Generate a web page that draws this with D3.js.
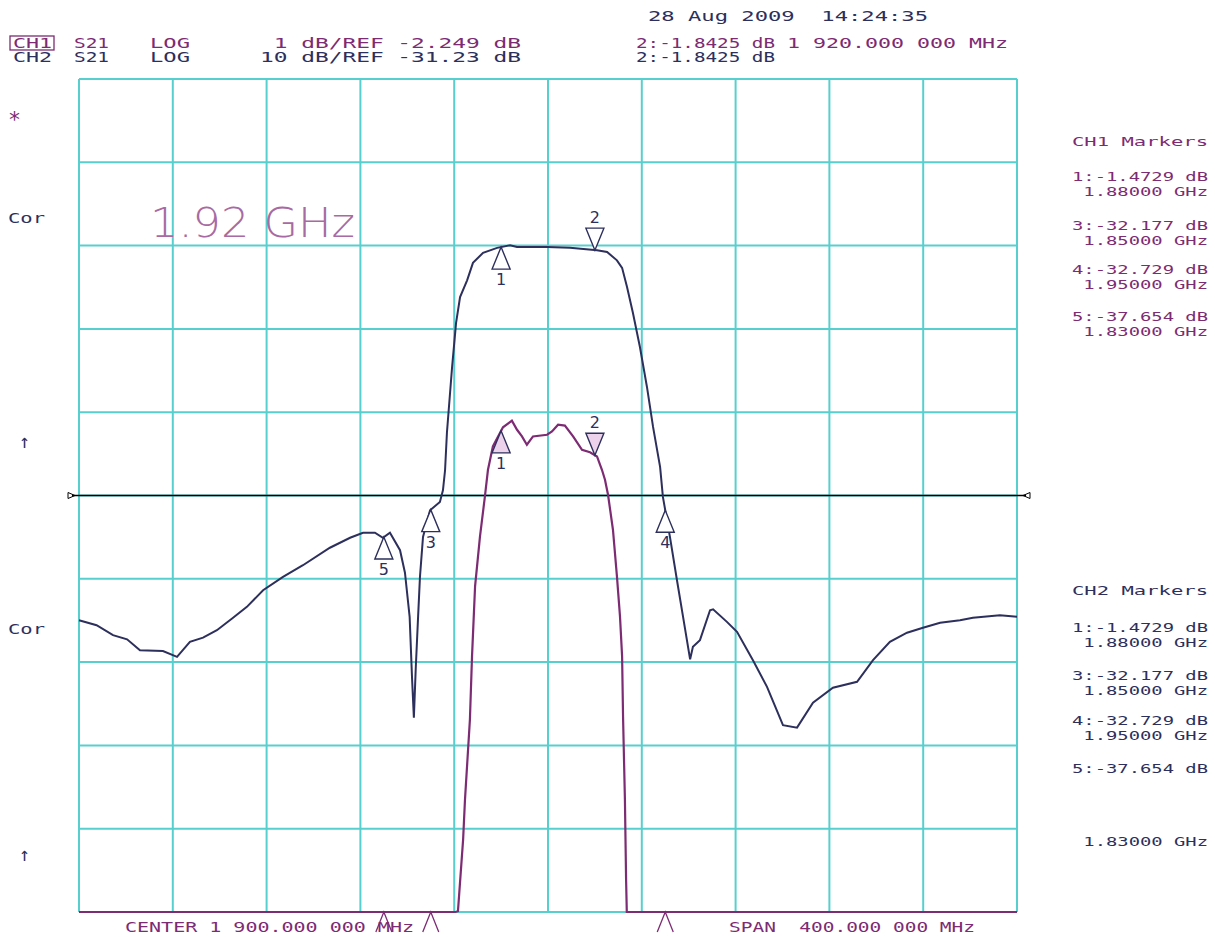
<!DOCTYPE html>
<html>
<head>
<meta charset="utf-8">
<script src="https://cdn.jsdelivr.net/npm/d3@7"></script>
<style>
  body { margin: 0; background: #fff; }
  text { font-family: "DejaVu Sans Mono", monospace; }
</style>
</head>
<body>
<div id="chart"></div>
<script>
// ---- instrument settings ----
const centerMHz = 1900;
const spanMHz = 400;
const ch1Ref = -2.249, ch1PerDiv = 1;    // CH1 S21 LOG 1 dB/div
const ch2Ref = -31.23, ch2PerDiv = 10;   // CH2 S21 LOG 10 dB/div

// ---- CH2 trace (wide view, navy) : frequency MHz / dB ----
const ch2Freq = [1700.0, 1707.5, 1714.5, 1720.5, 1726.0, 1735.8, 1741.8, 1747.3, 1752.9, 1758.8,
  1765.7, 1771.6, 1778.5, 1787.0, 1795.5, 1807.0, 1815.6, 1821.1, 1826.2, 1829.6,
  1832.6, 1836.9, 1839.0, 1841.0, 1842.0, 1842.8, 1843.6, 1844.6, 1845.4, 1846.7,
  1849.7, 1853.9, 1855.2, 1856.1, 1856.9, 1859.1, 1860.8, 1862.5, 1865.5, 1868.0,
  1872.3, 1878.3, 1883.8, 1886.8, 1899.6, 1909.4, 1920.9, 1925.2, 1929.4, 1931.6,
  1933.7, 1936.2, 1939.2, 1942.2, 1944.8, 1947.8, 1949.0, 1952.0, 1955.0, 1957.6,
  1960.6, 1961.8, 1964.8, 1969.1, 1970.4, 1976.3, 1980.6, 1987.4, 1993.4, 2000.2,
  2006.2, 2013.0, 2021.5, 2031.8, 2038.6, 2045.8, 2053.1, 2059.9, 2067.2, 2075.7,
  2081.2, 2092.7, 2100.0];
const ch2Db = [-46.2, -46.8, -48.0, -48.5, -49.8, -49.9, -50.6, -48.8, -48.3, -47.4,
  -45.9, -44.6, -42.6, -41.0, -39.6, -37.5, -36.3, -35.7, -35.7, -36.3,
  -35.7, -37.8, -40.5, -45.8, -53.0, -57.9, -52.0, -45.8, -41.0, -36.2,
  -33.0, -32.0, -30.6, -28.2, -23.7, -15.8, -10.5, -7.4, -5.4, -3.3,
  -2.1, -1.5, -1.2, -1.4, -1.4, -1.5, -1.8, -2.0, -3.0, -3.9,
  -6.2, -9.3, -13.4, -18.2, -23.0, -27.8, -31.4, -36.2, -41.4, -45.8,
  -50.9, -49.4, -48.6, -45.0, -44.9, -46.4, -47.6, -51.0, -54.2, -58.8,
  -59.1, -56.1, -54.3, -53.6, -51.0, -48.8, -47.7, -47.1, -46.5, -46.2,
  -45.9, -45.6, -45.8];

// ---- CH1 trace (passband zoom, purple) : frequency MHz / dB ----
const ch1Freq = [1700.0, 1860.5, 1861.6, 1863.8, 1864.6, 1866.7, 1867.6, 1868.9, 1871.0, 1873.1,
  1874.4, 1875.3, 1876.5, 1880.8, 1884.6, 1886.8, 1888.9, 1891.0, 1893.6, 1899.6,
  1901.7, 1904.3, 1907.2, 1910.7, 1914.5, 1917.9, 1920.9, 1923.0, 1924.3, 1925.6,
  1927.7, 1929.4, 1930.7, 1931.6, 1932.0, 1932.8, 1933.3, 1933.6, 1934.0, 2100.0];
const ch1Db = [-9.0, -9.0, -7.24, -6.38, -5.90, -4.94, -4.18, -3.34, -2.74, -2.26,
  -1.94, -1.82, -1.66, -1.43, -1.35, -1.46, -1.54, -1.64, -1.54, -1.52,
  -1.48, -1.40, -1.41, -1.54, -1.70, -1.73, -1.78, -1.94, -2.06, -2.24,
  -2.66, -3.22, -3.70, -4.18, -4.90, -5.90, -6.86, -7.3, -9.0, -9.0];

// ---- markers ----
const markerIds = ["1", "2", "3", "4", "5"];
const markerFreq = [1880, 1920, 1850, 1950, 1830];
const markerPointsDown = [false, true, false, false, false];

// ---- text ----
const dateLabel = "28 Aug 2009  14:24:35";
const ch1Header = ["CH1", "S21", "LOG", " 1 dB/REF -2.249 dB", "2:-1.8425 dB", "1 920.000 000 MHz"];
const ch2Header = ["CH2", "S21", "LOG", "10 dB/REF -31.23 dB", "2:-1.8425 dB"];
const markerListCh1 = ["CH1 Markers", "1:-1.4729 dB", " 1.88000 GHz", "3:-32.177 dB", " 1.85000 GHz",
  "4:-32.729 dB", " 1.95000 GHz", "5:-37.654 dB", " 1.83000 GHz"];
const markerListCh2 = ["CH2 Markers", "1:-1.4729 dB", " 1.88000 GHz", "3:-32.177 dB", " 1.85000 GHz",
  "4:-32.729 dB", " 1.95000 GHz", "5:-37.654 dB", " 1.83000 GHz"];
const stimulusLabels = ["CENTER 1 900.000 000 MHz", "SPAN  400.000 000 MHz"];
const bigLabel = "1.92 GHz";

// ---- layout ----
const W = 1215, H = 937;
const plot = { left: 79, right: 1017, top: 79, bottom: 912 };
const purple = "#7d2b73", navy = "#2d2f5c", grid = "#58cfcf";

const svg = d3.select("#chart").append("svg").attr("width", W).attr("height", H);
svg.append("rect").attr("width", W).attr("height", H).attr("fill", "#fff");

const x = d3.scaleLinear()
  .domain([centerMHz - spanMHz / 2, centerMHz + spanMHz / 2])
  .range([plot.left, plot.right]);
const yCh1 = d3.scaleLinear()
  .domain([ch1Ref - 5 * ch1PerDiv, ch1Ref + 5 * ch1PerDiv])
  .range([plot.bottom, plot.top]).clamp(true);
const yCh2 = d3.scaleLinear()
  .domain([ch2Ref - 5 * ch2PerDiv, ch2Ref + 5 * ch2PerDiv])
  .range([plot.bottom, plot.top]).clamp(true);

// graticule: 10 x 10 divisions
const xDivs = d3.range(11).map(i => x.domain()[0] + i * spanMHz / 10);
const yDivs = d3.range(11).map(i => yCh2.domain()[0] + i * ch2PerDiv);
const g = svg.append("g");
g.selectAll(".vl").data(xDivs).enter().append("line")
  .attr("x1", d => x(d)).attr("x2", d => x(d))
  .attr("y1", plot.top).attr("y2", plot.bottom)
  .attr("stroke", grid).attr("stroke-width", 2);
g.selectAll(".hl").data(yDivs).enter().append("line")
  .attr("y1", d => yCh2(d)).attr("y2", d => yCh2(d))
  .attr("x1", plot.left).attr("x2", plot.right)
  .attr("stroke", grid).attr("stroke-width", 2);

// reference line (both channels have their reference at the centre)
const yRef = yCh2(ch2Ref);
svg.append("line").attr("x1", 72).attr("x2", 1026).attr("y1", yRef).attr("y2", yRef)
  .attr("stroke", "#000").attr("stroke-width", 1.5);
svg.append("path").attr("d", `M68,${yRef - 3} L75,${yRef} L68,${yRef + 3} Z`)
  .attr("fill", "none").attr("stroke", "#000").attr("stroke-width", 1);
svg.append("path").attr("d", `M1030,${yRef - 3} L1023,${yRef} L1030,${yRef + 3} Z`)
  .attr("fill", "none").attr("stroke", "#000").attr("stroke-width", 1);

// traces
const ch1Data = ch1Freq.map((f, i) => [f, ch1Db[i]]);
const ch2Data = ch2Freq.map((f, i) => [f, ch2Db[i]]);
svg.append("path").datum(ch1Data)
  .attr("d", d3.line().x(d => x(d[0])).y(d => yCh1(d[1])))
  .attr("fill", "none").attr("stroke", purple).attr("stroke-width", 2.2);
svg.append("path").datum(ch2Data)
  .attr("d", d3.line().x(d => x(d[0])).y(d => yCh2(d[1])))
  .attr("fill", "none").attr("stroke", navy).attr("stroke-width", 2);

// markers sit on the trace
function valueAt(freqs, dbs, f) {
  const i = Math.max(1, d3.bisectLeft(freqs, f));
  const t = (f - freqs[i - 1]) / (freqs[i] - freqs[i - 1]);
  return dbs[i - 1] + t * (dbs[i] - dbs[i - 1]);
}
function drawMarkers(freqs, dbs, yScale, fillCol) {
  markerFreq.forEach((f, i) => {
    const v = valueAt(freqs, dbs, f);
    const tx = x(f), ty = yScale(v);
    const clipped = v < yScale.domain()[0];
    const down = markerPointsDown[i];
    if (clipped) {
      // off-screen marker: only the apex shows below the graticule
      svg.append("path").attr("d", `M${tx - 8},${ty + 20} L${tx},${ty} L${tx + 8},${ty + 20}`)
        .attr("fill", "none").attr("stroke", purple).attr("stroke-width", 1.3);
      return;
    }
    const by = down ? ty - 22 : ty + 22;
    svg.append("path").attr("d", `M${tx},${ty} L${tx - 9},${by} L${tx + 9},${by} Z`)
      .attr("fill", fillCol).attr("stroke", navy).attr("stroke-width", 1.4);
    svg.append("text").attr("x", tx).attr("y", down ? ty - 27 : ty + 38)
      .attr("text-anchor", "middle")
      .attr("font-size", 16).attr("fill", navy).style("font-family", "DejaVu Sans")
      .text(markerIds[i]);
  });
}
drawMarkers(ch2Freq, ch2Db, yCh2, "#fff");
drawMarkers(ch1Freq, ch1Db, yCh1, "#ecd2ea");

// text helper: fixed-pitch display font, stretched to the cell width
function mono(str, x0, y0, width, col, size) {
  svg.append("text").attr("x", x0).attr("y", y0)
    .attr("font-size", size || 14).attr("fill", col)
    .attr("textLength", width).attr("lengthAdjust", "spacingAndGlyphs")
    .style("white-space", "pre")
    .text(str);
}

// header
mono(dateLabel, 648, 21, 280, navy);
const hdrX = [13, 74, 150, 260, 636, 787];
const hdrW = [39, 35, 40, 261, 139, 221];
ch1Header.forEach((s, i) => mono(s, hdrX[i], 48, hdrW[i], purple));
ch2Header.forEach((s, i) => mono(s, hdrX[i], 62, hdrW[i], navy));
svg.append("rect").attr("x", 10).attr("y", 36).attr("width", 44).attr("height", 14)
  .attr("fill", "none").attr("stroke", purple).attr("stroke-width", 1.3);

// left annotations
mono("*", 8, 127, 13, purple, 22);
mono("Cor", 8, 223, 37, navy);
mono("Cor", 8, 634, 37, navy);
mono("\u2191", 19, 448, 11, navy, 19);
mono("\u2191", 19, 861, 11, navy, 19);

// big frequency readout
svg.append("text").attr("x", 150).attr("y", 237)
  .attr("font-size", 40).attr("fill", "#a86aa2")
  .attr("textLength", 205).attr("lengthAdjust", "spacingAndGlyphs")
  .style("font-family", "'DejaVu Sans', sans-serif").style("font-weight", 200)
  .text(bigLabel);

// marker tables on the right
const ch1Rows = [146, 181, 196, 230, 245, 274, 289, 321, 336];
const ch2Rows = [595, 632, 647, 680, 695, 725, 740, 773, 846];
markerListCh1.forEach((s, i) => mono(s, 1072, ch1Rows[i], 136, purple, 13));
markerListCh2.forEach((s, i) => mono(s, 1072, ch2Rows[i], 136, navy, 13));

// stimulus
mono(stimulusLabels[0], 125, 932, 289, purple);
mono(stimulusLabels[1], 729, 932, 246, purple);
</script>
</body>
</html>
